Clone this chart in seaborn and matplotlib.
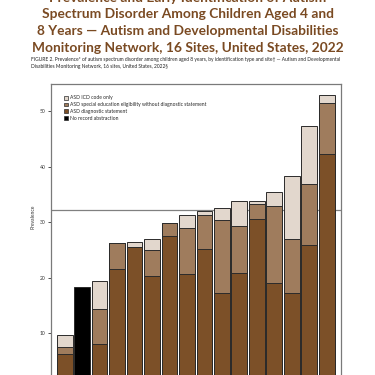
"""
Prevalence of autism spectrum disorder by identification type and site.
"""
import matplotlib
matplotlib.use('Agg')
import pandas as pd
import matplotlib.pyplot as plt
from matplotlib.patches import Patch
import seaborn as sns

SITES = ['Site {}'.format(i) for i in range(1, 17)]
DIAGNOSTIC = [6.2, 0, 8.0, 21.6, 25.5, 20.3, 27.5, 20.7,
              25.1, 17.3, 20.9, 30.5, 19.1, 17.3, 25.9, 42.2]
SPECIAL_ED = [1.2, 0, 6.4, 4.7, 0, 4.6, 2.3, 8.3,
              6.2, 13.1, 8.4, 2.7, 13.8, 9.6, 11.0, 9.3]
ICD_ONLY = [2.2, 0, 5.0, 0, 0.9, 2.0, 0, 2.3,
            0.7, 2.2, 4.5, 0.6, 2.5, 11.4, 10.4, 1.5]
NO_RECORD = [0, 18.3, 0, 0, 0, 0, 0, 0, 0, 0, 0, 0, 0, 0, 0, 0]
OVERALL = 32.2

LEGEND_LABELS = [
    'ASD ICD code only',
    'ASD special education eligibility without diagnostic statement',
    'ASD diagnostic statement',
    'No record abstraction',
]

TITLE_LINES = [
    'Prevalence and Early Identification of Autism',
    'Spectrum Disorder Among Children Aged 4 and',
    '8 Years \u2014 Autism and Developmental Disabilities',
    'Monitoring Network, 16 Sites, United States, 2022',
]
CAPTION = ('FIGURE 2. Prevalence* of autism spectrum disorder among children aged 8 years, '
           'by identification type and site\u2020 \u2014 Autism and Developmental\n'
           'Disabilities Monitoring Network, 16 sites, United States, 2022\u00a7')

LIGHT = '#e2d7cd'
MEDIUM = '#9f7c5d'
DARK = '#7c5028'
BROWN_TEXT = '#7a4a22'


def build_data():
    data = pd.DataFrame({
        'site': SITES,
        'diagnostic': DIAGNOSTIC,
        'special_ed': SPECIAL_ED,
        'icd_only': ICD_ONLY,
        'no_record': NO_RECORD,
    })
    data['layer_med'] = data['diagnostic'] + data['special_ed']
    data['layer_top'] = data['layer_med'] + data['icd_only']
    return data


def plot(data):
    sns.set_style('ticks')
    plt.rcParams['font.family'] = ['Lato', 'DejaVu Sans']

    fig = plt.figure(figsize=(3.75, 3.75), dpi=100)
    ax = fig.add_axes([0.136, -0.036, 0.7733, 0.812])

    layers = [('layer_top', LIGHT), ('layer_med', MEDIUM),
              ('diagnostic', DARK), ('no_record', 'black')]
    for col, color in layers:
        sns.barplot(data=data, x='site', y=col, order=SITES, color=color,
                    width=0.9, edgecolor='#2b2b2b', linewidth=0.7,
                    saturation=1, ax=ax)

    ax.axhline(OVERALL, color='#808080', lw=0.9, zorder=0.5)

    ax.set_xlim(-0.784, 15.82)
    ax.set_ylim(0, 54.9)
    ax.set_yticks([10, 20, 30, 40, 50])
    ax.set_xticks([])
    ax.set_xlabel('')
    ax.set_ylabel('Prevalence', fontsize=3.6, color='#333333')
    ax.yaxis.set_label_coords(-0.055, 0.563)
    ax.tick_params(axis='y', labelsize=3.6, length=2.5, width=0.6,
                   colors='#333333', pad=1.5)
    for spine in ax.spines.values():
        spine.set_color('#7a7a7a')
        spine.set_linewidth(0.9)

    handles = [Patch(facecolor=c, edgecolor='#2b2b2b', linewidth=0.5)
               for c in [LIGHT, MEDIUM, DARK, 'black']]
    fig.legend(handles, LEGEND_LABELS, loc='upper left',
               bbox_to_anchor=(0.163, 0.752), frameon=False,
               fontsize=3.6, handlelength=0.8, handleheight=0.8,
               handletextpad=0.5, labelspacing=0.35, borderpad=0)

    fig.text(0.083, 0.832, CAPTION, fontsize=3.55, color='#222222',
             va='center', ha='left', linespacing=1.3)

    # the poster title runs off the top edge, as in the source image
    for i, line in enumerate(TITLE_LINES):
        fig.text(0.5, 1.0064 - i * 0.0445, line, ha='center', va='center',
                 fontsize=9.9, fontweight='bold', color=BROWN_TEXT)

    fig.savefig('out.png', dpi=100)


if __name__ == '__main__':

    data = build_data()

    plot(data)
